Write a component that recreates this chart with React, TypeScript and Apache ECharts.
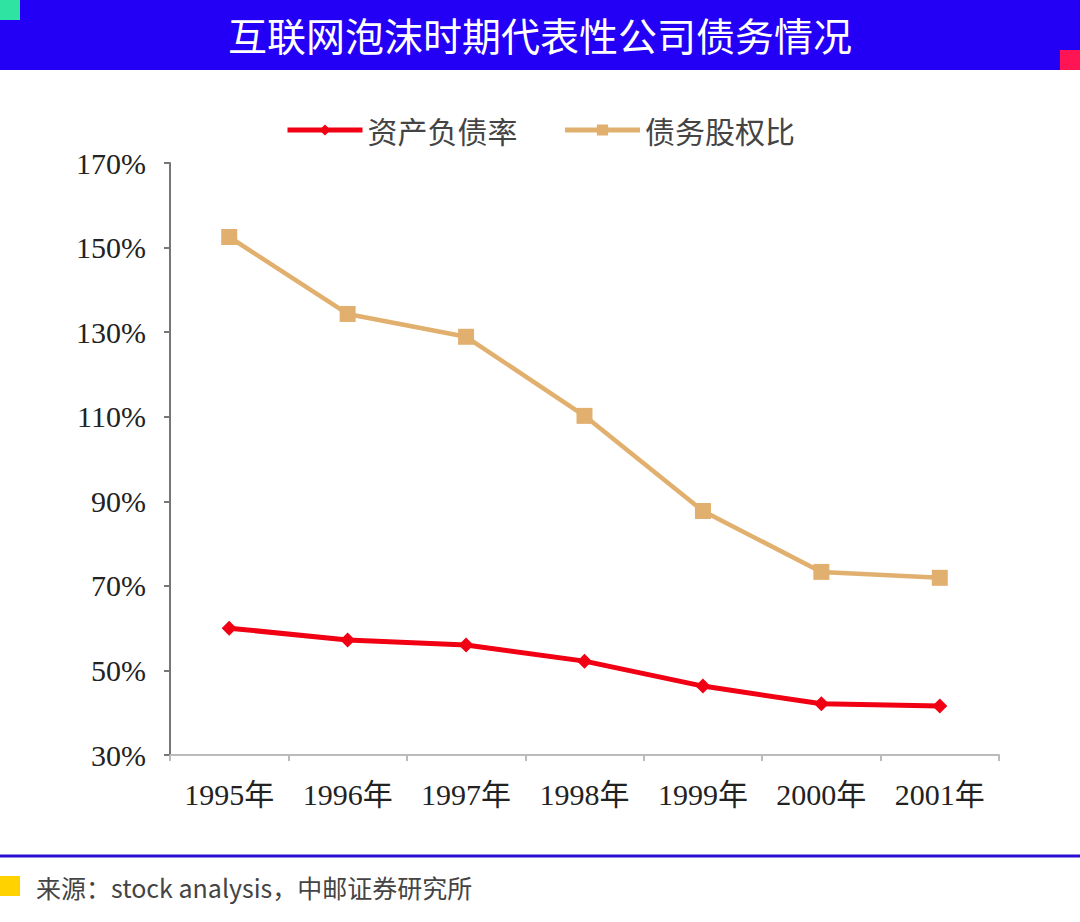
import React, { useEffect, useRef } from "react";
import * as echarts from "echarts";

const years = ["1995年", "1996年", "1997年", "1998年", "1999年", "2000年", "2001年"];
const debtToAsset = [60.0, 57.2, 56.0, 52.2, 46.3, 42.1, 41.6];
const debtToEquity = [152.5, 134.3, 128.9, 110.2, 87.7, 73.3, 71.9];
const seriesNames = ["资产负债率", "债务股权比"];
const titleText = "互联网泡沫时期代表性公司债务情况";
const sourceText = "来源：stock analysis，中邮证券研究所";

export default function App() {
  const ref = useRef<HTMLDivElement>(null);
  useEffect(() => {
    if (!ref.current) return;
    const chart = echarts.init(ref.current, null, { renderer: "svg" });
    const serif = "'Liberation Serif', 'Times New Roman', 'Noto Sans CJK SC', serif";
    chart.setOption({
      animation: false,
      backgroundColor: "#ffffff",
      title: {
        text: titleText,
        left: "center",
        top: 9,
        textStyle: {
          color: "#ffffff",
          fontSize: 39,
          fontWeight: "normal",
          fontFamily: "'Noto Sans CJK SC', sans-serif",
        },
      },
      graphic: [
        { type: "rect", shape: { x: 0, y: 0, width: 1080, height: 70 }, style: { fill: "#2300F5" }, z: -1 },
        { type: "rect", shape: { x: 0, y: 0, width: 20, height: 20 }, style: { fill: "#2FE3A3" } },
        { type: "rect", shape: { x: 1060, y: 50, width: 20, height: 20 }, style: { fill: "#FF1554" } },
        { type: "line", shape: { x1: 0, y1: 856, x2: 1080, y2: 856 }, style: { stroke: "#2A10D0", lineWidth: 3 } },
        { type: "rect", shape: { x: 0, y: 876, width: 20, height: 20 }, style: { fill: "#FFD200" } },
        {
          type: "text",
          x: 36,
          y: 887,
          style: {
            text: sourceText,
            fill: "#444444",
            fontSize: 25,
            fontFamily: "'Noto Sans CJK SC', sans-serif",
            verticalAlign: "middle",
          },
        },
      ],
      legend: {
        top: 110,
        left: "center",
        itemWidth: 75,
        itemHeight: 14,
        itemGap: 45,
        lineStyle: { width: 5 },
        textStyle: { color: "#444", fontSize: 30, fontFamily: "'Noto Sans CJK SC', serif" },
        data: seriesNames,
      },
      grid: { left: 170, right: 81, top: 163, bottom: 167, containLabel: false },
      xAxis: {
        type: "category",
        data: years,
        boundaryGap: true,
        axisLine: { lineStyle: { color: "#BBBBBB", width: 2 } },
        axisTick: { show: true, length: 6, lineStyle: { color: "#BBBBBB", width: 2 } },
        axisLabel: { color: "#222", fontSize: 30, fontFamily: serif, margin: 24 },
      },
      yAxis: {
        type: "value",
        min: 30,
        max: 170,
        interval: 20,
        axisLine: { show: true, lineStyle: { color: "#777777", width: 2 } },
        axisTick: { show: true, length: 6, lineStyle: { color: "#777777", width: 2 } },
        splitLine: { show: false },
        axisLabel: {
          color: "#222",
          fontSize: 30,
          fontFamily: serif,
          margin: 24,
          formatter: "{value}%",
        },
      },
      series: [
        {
          name: seriesNames[0],
          type: "line",
          data: debtToAsset,
          symbol: "diamond",
          symbolSize: 15,
          itemStyle: { color: "#F00012" },
          lineStyle: { color: "#F00012", width: 5 },
        },
        {
          name: seriesNames[1],
          type: "line",
          data: debtToEquity,
          symbol: "rect",
          symbolSize: 16,
          itemStyle: { color: "#E2B06E" },
          lineStyle: { color: "#E2B06E", width: 4.5 },
        },
      ],
    });
    return () => chart.dispose();
  }, []);
  return (
    <div
      ref={ref}
      style={{ position: "absolute", left: 0, top: 0, width: 1080, height: 922 }}
    />
  );
}
